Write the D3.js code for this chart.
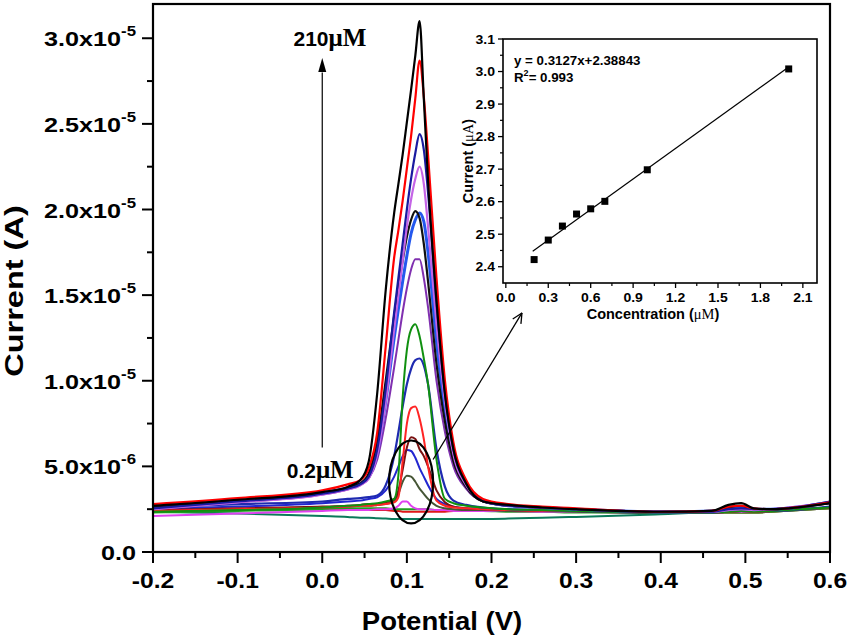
<!DOCTYPE html>
<html>
<head>
<meta charset="utf-8">
<script src="https://cdn.jsdelivr.net/npm/d3@7"></script>
<style>
  body { margin: 0; background: #fff; }
  text { font-family: "Liberation Sans", Arial, sans-serif; font-weight: bold; fill: #000; }
</style>
</head>
<body>
<script>
// ---------------- DATA ----------------
// Potential (V) sample grid shared by all DPV curves
const potential = [-0.2, -0.1, 0.0, 0.03, 0.045, 0.055, 0.065, 0.075, 0.085, 0.09, 0.095, 0.1, 0.105, 0.11, 0.115, 0.12, 0.125, 0.135, 0.145, 0.155, 0.17, 0.19, 0.22, 0.26, 0.3, 0.4, 0.46, 0.48, 0.495, 0.51, 0.53, 0.6];

// Currents in µA (x1e-6 A), one array per concentration
const curBlack1  = [2.7, 3.05, 3.5, 3.8, 4.2, 5.3, 9.3, 15.3, 19.8, 21.5, 23.2, 25.1, 27.0, 29.0, 31.0, 26.5, 21.7, 14.7, 9.2, 6.0, 4.0, 2.95, 2.75, 2.6, 2.5, 2.35, 2.4, 2.75, 2.85, 2.55, 2.5, 2.85];
const curRed1    = [2.8, 3.15, 3.6, 3.95, 4.2, 4.9, 7.0, 12.0, 17.2, 18.8, 20.5, 22.4, 24.3, 26.5, 28.7, 26.6, 23.2, 16.0, 10.0, 6.4, 4.2, 3.1, 2.8, 2.65, 2.55, 2.35, 2.4, 2.65, 2.7, 2.55, 2.5, 2.9];
const curNavy1   = [2.55, 2.95, 3.4, 3.7, 3.95, 4.4, 6.0, 9.5, 14.0, 16.0, 18.0, 20.0, 21.8, 23.3, 24.4, 23.5, 21.0, 14.5, 9.3, 6.0, 4.0, 3.0, 2.7, 2.6, 2.5, 2.35, 2.35, 2.5, 2.55, 2.5, 2.5, 2.95];
const curViolet  = [2.5, 2.9, 3.35, 3.65, 3.9, 4.3, 5.7, 8.8, 13.0, 15.0, 17.0, 19.0, 20.6, 21.8, 22.5, 21.5, 19.0, 13.3, 8.8, 5.7, 3.9, 3.0, 2.7, 2.6, 2.5, 2.35, 2.35, 2.45, 2.5, 2.45, 2.5, 2.9];
const curBlack2  = [2.6, 3.0, 3.45, 3.75, 4.0, 4.6, 6.5, 10.0, 13.8, 15.5, 17.0, 18.4, 19.4, 19.9, 19.5, 18.0, 15.8, 11.0, 7.6, 5.3, 3.8, 2.95, 2.7, 2.6, 2.5, 2.35, 2.4, 2.6, 2.7, 2.5, 2.5, 2.85];
const curBlue1   = [2.6, 3.0, 3.45, 3.75, 4.0, 4.4, 5.8, 8.8, 12.5, 14.2, 15.8, 17.3, 18.6, 19.4, 19.8, 19.3, 17.5, 12.3, 8.2, 5.5, 3.9, 3.0, 2.7, 2.6, 2.5, 2.35, 2.4, 2.5, 2.55, 2.5, 2.5, 2.9];
const curPurple  = [2.5, 2.9, 3.35, 3.65, 3.9, 4.3, 5.4, 7.8, 10.8, 12.4, 14.0, 15.4, 16.5, 17.1, 17.1, 16.0, 14.3, 10.0, 7.0, 5.0, 3.7, 2.95, 2.7, 2.6, 2.5, 2.35, 2.35, 2.45, 2.5, 2.45, 2.5, 2.85];
const curGreen1  = [2.35, 2.45, 2.6, 2.7, 2.75, 2.8, 2.85, 2.95, 3.1, 4.5, 9.0, 11.8, 13.0, 13.3, 12.6, 11.3, 9.8, 5.4, 3.1, 2.85, 2.7, 2.6, 2.5, 2.45, 2.4, 2.3, 2.3, 2.35, 2.4, 2.35, 2.4, 2.6];
const curNavy2   = [2.6, 2.8, 2.95, 3.1, 3.15, 3.2, 3.3, 3.9, 5.6, 7.0, 8.5, 9.8, 10.7, 11.2, 11.3, 10.9, 9.8, 6.0, 3.8, 3.0, 2.75, 2.6, 2.5, 2.45, 2.4, 2.3, 2.3, 2.4, 2.45, 2.4, 2.4, 2.65];
const curRed2    = [2.4, 2.5, 2.6, 2.65, 2.7, 2.7, 2.75, 2.8, 2.9, 3.2, 5.3, 7.5, 8.4, 8.5, 7.8, 6.6, 5.0, 3.0, 2.7, 2.6, 2.55, 2.5, 2.45, 2.4, 2.4, 2.3, 2.3, 2.35, 2.4, 2.35, 2.4, 2.6];
const curBrown   = [2.45, 2.55, 2.65, 2.7, 2.75, 2.8, 2.8, 2.9, 3.1, 3.6, 4.8, 6.1, 6.7, 6.6, 6.0, 5.6, 5.0, 3.6, 2.9, 2.65, 2.55, 2.5, 2.45, 2.4, 2.4, 2.3, 2.3, 2.35, 2.4, 2.35, 2.4, 2.6];
const curBlue2   = [2.5, 2.65, 2.85, 2.95, 3.0, 3.1, 3.2, 3.6, 4.4, 5.0, 5.6, 5.95, 5.9, 5.5, 4.9, 4.4, 3.9, 3.1, 2.8, 2.65, 2.55, 2.5, 2.45, 2.4, 2.4, 2.3, 2.3, 2.35, 2.4, 2.35, 2.4, 2.6];
const curOlive   = [2.4, 2.5, 2.6, 2.65, 2.7, 2.7, 2.75, 2.8, 3.0, 3.4, 4.1, 4.45, 4.4, 4.1, 3.7, 3.4, 3.1, 2.7, 2.55, 2.5, 2.45, 2.45, 2.4, 2.4, 2.35, 2.3, 2.3, 2.35, 2.4, 2.35, 2.4, 2.6];
const curMagenta = [2.1, 2.25, 2.4, 2.45, 2.45, 2.45, 2.5, 2.5, 2.55, 2.7, 2.95, 2.95, 2.7, 2.55, 2.5, 2.5, 2.5, 2.45, 2.45, 2.4, 2.4, 2.4, 2.4, 2.35, 2.35, 2.3, 2.3, 2.35, 2.35, 2.35, 2.4, 2.6];
const curGreen2  = [2.3, 2.4, 2.5, 2.55, 2.55, 2.55, 2.55, 2.55, 2.5, 2.5, 2.5, 2.5, 2.5, 2.5, 2.5, 2.5, 2.5, 2.45, 2.45, 2.45, 2.4, 2.4, 2.35, 2.35, 2.3, 2.3, 2.3, 2.3, 2.3, 2.3, 2.35, 2.55];
const curRed3    = [2.4, 2.45, 2.5, 2.5, 2.5, 2.45, 2.45, 2.45, 2.4, 2.4, 2.35, 2.35, 2.35, 2.35, 2.35, 2.35, 2.35, 2.35, 2.35, 2.4, 2.4, 2.4, 2.4, 2.35, 2.35, 2.3, 2.3, 2.3, 2.3, 2.3, 2.35, 2.55];
const curTeal    = [2.35, 2.25, 2.1, 2.05, 2.0, 2.0, 1.97, 1.95, 1.93, 1.93, 1.93, 1.93, 1.93, 1.93, 1.93, 1.93, 1.93, 1.93, 1.93, 1.93, 1.93, 1.93, 1.95, 2.0, 2.05, 2.2, 2.3, 2.3, 2.3, 2.3, 2.35, 2.55];

// Axis ticks
const xTicks = [-0.2, -0.1, 0.0, 0.1, 0.2, 0.3, 0.4, 0.5, 0.6];
const yTicks = [0, 5e-6, 1e-5, 1.5e-5, 2e-5, 2.5e-5, 3e-5];

// Inset calibration data
const conc = [0.2, 0.3, 0.4, 0.5, 0.6, 0.7, 1.0, 2.0];
const peakCurrent = [2.422, 2.482, 2.525, 2.562, 2.578, 2.601, 2.698, 3.008];
const fitSlope = 0.3127, fitIntercept = 2.38843, fitRange = [0.19, 2.0];
const insetXTicks = [0.0, 0.3, 0.6, 0.9, 1.2, 1.5, 1.8, 2.1];
const insetYTicks = [2.4, 2.5, 2.6, 2.7, 2.8, 2.9, 3.0, 3.1];

// ---------------- STYLES ----------------
const series = [
  { v: curTeal,    color: "#0a7a5a", w: 2 },
  { v: curRed3,    color: "#e01818", w: 2 },
  { v: curGreen2,  color: "#20a020", w: 2 },
  { v: curMagenta, color: "#e040f0", w: 2 },
  { v: curOlive,   color: "#465636", w: 2 },
  { v: curBlue2,   color: "#2226d0", w: 2 },
  { v: curBrown,   color: "#7a1010", w: 2 },
  { v: curRed2,    color: "#ff2424", w: 2 },
  { v: curNavy2,   color: "#1e2ab0", w: 2.2 },
  { v: curGreen1,  color: "#109010", w: 2 },
  { v: curPurple,  color: "#8030b0", w: 2 },
  { v: curBlue1,   color: "#2458ee", w: 3 },
  { v: curBlack2,  color: "#101010", w: 2.2 },
  { v: curViolet,  color: "#c464e6", w: 2.2 },
  { v: curNavy1,   color: "#1a1aa0", w: 2.2 },
  { v: curRed1,    color: "#ff0000", w: 2.2 },
  { v: curBlack1,  color: "#000000", w: 2.2 }
];

// ---------------- CHART ----------------
const W = 851, H = 643;
const svg = d3.select("body").append("svg").attr("width", W).attr("height", H);

const x = d3.scaleLinear().domain([-0.2, 0.6]).range([153, 830]);
const y = d3.scaleLinear().domain([0, 3.2e-5]).range([552, 4]);

svg.append("clipPath").attr("id", "clip").append("rect")
  .attr("x", x(-0.2)).attr("y", y(3.2e-5)).attr("width", x(0.6) - x(-0.2)).attr("height", y(0) - y(3.2e-5));

const line = d3.line()
  .x((d, i) => x(potential[i]))
  .y(d => y(d * 1e-6))
  .curve(d3.curveMonotoneX);

const gLines = svg.append("g").attr("clip-path", "url(#clip)");
series.forEach(s => {
  gLines.append("path").attr("d", line(s.v))
    .attr("fill", "none").attr("stroke", s.color).attr("stroke-width", s.w)
    .attr("stroke-linejoin", "round");
});

// frame
svg.append("rect").attr("x", x(-0.2)).attr("y", y(3.2e-5))
  .attr("width", x(0.6) - x(-0.2)).attr("height", y(0) - y(3.2e-5))
  .attr("fill", "none").attr("stroke", "#000").attr("stroke-width", 2.2);

// x ticks
const xMinor = d3.range(-0.15, 0.6, 0.1);
xTicks.forEach(t => svg.append("line").attr("x1", x(t)).attr("x2", x(t)).attr("y1", y(0)).attr("y2", y(0) + 11).attr("stroke", "#000").attr("stroke-width", 2));
xMinor.forEach(t => svg.append("line").attr("x1", x(t)).attr("x2", x(t)).attr("y1", y(0)).attr("y2", y(0) + 6).attr("stroke", "#000").attr("stroke-width", 2));
xTicks.forEach(t => {
  svg.append("text").attr("transform", `translate(${x(t)},588) scale(1.12,1)`)
    .attr("text-anchor", "middle").attr("font-size", 22)
    .text(d3.format(".1f")(t).replace("−", "-"));
});

// y ticks
const yMinor = d3.range(2.5e-6, 3.2e-5, 5e-6);
yTicks.forEach(t => svg.append("line").attr("x1", x(-0.2) - 11).attr("x2", x(-0.2)).attr("y1", y(t)).attr("y2", y(t)).attr("stroke", "#000").attr("stroke-width", 2));
yMinor.forEach(t => svg.append("line").attr("x1", x(-0.2) - 6).attr("x2", x(-0.2)).attr("y1", y(t)).attr("y2", y(t)).attr("stroke", "#000").attr("stroke-width", 2));
yTicks.forEach(t => {
  const txt = svg.append("text").attr("transform", `translate(136,${y(t) + 8}) scale(1.2,1)`)
    .attr("text-anchor", "end").attr("font-size", 21);
  if (t === 0) { txt.text("0.0"); return; }
  const e = Math.floor(Math.log10(t) + 1e-9);
  const m = t / Math.pow(10, e);
  txt.append("tspan").text(m.toFixed(1) + "x10");
  txt.append("tspan").attr("font-size", 14).attr("dy", -10).text(String(e));
});

// axis titles
svg.append("text").attr("transform", "translate(442,630) scale(1.1,1)")
  .attr("text-anchor", "middle").attr("font-size", 25).text("Potential (V)");
svg.append("text").attr("transform", "translate(23,291) rotate(-90) scale(1.25,1)")
  .attr("text-anchor", "middle").attr("font-size", 26).text("Current (A)");

// ---------------- ANNOTATIONS ----------------
// vertical concentration arrow
svg.append("line").attr("x1", x(0)).attr("x2", x(0)).attr("y1", y(6.1e-6)).attr("y2", y(2.8e-5))
  .attr("stroke", "#000").attr("stroke-width", 1.2);
svg.append("path")
  .attr("d", `M${x(0)},${y(2.885e-5)} L${x(0) - 4},${y(2.885e-5) + 14} L${x(0) + 4},${y(2.885e-5) + 14} Z`)
  .attr("fill", "#000");

const labHigh = svg.append("text").attr("x", x(-0.034)).attr("y", 46).attr("font-size", 21);
labHigh.append("tspan").text("210");
labHigh.append("tspan").attr("font-family", "'Liberation Serif', 'Times New Roman', serif").attr("font-size", 25).attr("font-weight", "bold").text("μM");
const labLow = svg.append("text").attr("x", x(-0.042)).attr("y", 478).attr("font-size", 21);
labLow.append("tspan").text("0.2");
labLow.append("tspan").attr("font-family", "'Liberation Serif', 'Times New Roman', serif").attr("font-size", 25).attr("font-weight", "bold").text("μM");

// ellipse around low-concentration peaks
svg.append("ellipse").attr("cx", x(0.105)).attr("cy", y(4.09e-6))
  .attr("rx", x(0.131) - x(0.105)).attr("ry", y(0) - y(2.42e-6))
  .attr("fill", "none").attr("stroke", "#000").attr("stroke-width", 2.2);

// arrow to inset
const ax1 = x(0.131), ay1 = y(5.4e-6), ax2 = x(0.236), ay2 = y(1.396e-5);
svg.append("line").attr("x1", ax1).attr("y1", ay1).attr("x2", ax2).attr("y2", ay2)
  .attr("stroke", "#000").attr("stroke-width", 1.3);
const ang = Math.atan2(ay2 - ay1, ax2 - ax1);
[0.45, -0.45].forEach(a => {
  svg.append("line").attr("x1", ax2).attr("y1", ay2)
    .attr("x2", ax2 - 11 * Math.cos(ang + a)).attr("y2", ay2 - 11 * Math.sin(ang + a))
    .attr("stroke", "#000").attr("stroke-width", 1.3);
});

// ---------------- INSET ----------------
const ix = d3.scaleLinear().domain([-0.02, 2.2]).range([503, 817]);
const iy = d3.scaleLinear().domain([2.35, 3.1]).range([283, 39]);
const gi = svg.append("g");
gi.append("rect").attr("x", ix(-0.02)).attr("y", iy(3.1)).attr("width", ix(2.2) - ix(-0.02)).attr("height", iy(2.35) - iy(3.1))
  .attr("fill", "#fff").attr("stroke", "#000").attr("stroke-width", 1.6);

insetXTicks.forEach(t => {
  gi.append("line").attr("x1", ix(t)).attr("x2", ix(t)).attr("y1", iy(2.35)).attr("y2", iy(2.35) + 5).attr("stroke", "#000").attr("stroke-width", 1.3);
  gi.append("text").attr("transform", `translate(${ix(t)},302) scale(1.12,1)`).attr("text-anchor", "middle").attr("font-size", 12.5).text(t.toFixed(1));
});
d3.range(0.15, 2.2, 0.3).forEach(t => {
  gi.append("line").attr("x1", ix(t)).attr("x2", ix(t)).attr("y1", iy(2.35)).attr("y2", iy(2.35) + 3).attr("stroke", "#000").attr("stroke-width", 1.2);
});
insetYTicks.forEach(t => {
  gi.append("line").attr("x1", ix(-0.02) - 5).attr("x2", ix(-0.02)).attr("y1", iy(t)).attr("y2", iy(t)).attr("stroke", "#000").attr("stroke-width", 1.3);
  gi.append("text").attr("transform", `translate(495,${iy(t) + 4.5}) scale(1.12,1)`).attr("text-anchor", "end").attr("font-size", 12.5).text(t.toFixed(1));
});
d3.range(2.45, 3.1, 0.1).forEach(t => {
  gi.append("line").attr("x1", ix(-0.02) - 3).attr("x2", ix(-0.02)).attr("y1", iy(t)).attr("y2", iy(t)).attr("stroke", "#000").attr("stroke-width", 1.2);
});

// fit line
gi.append("line")
  .attr("x1", ix(fitRange[0])).attr("y1", iy(fitSlope * fitRange[0] + fitIntercept))
  .attr("x2", ix(fitRange[1])).attr("y2", iy(fitSlope * fitRange[1] + fitIntercept))
  .attr("stroke", "#000").attr("stroke-width", 1.2);
// points
conc.forEach((c, i) => {
  gi.append("rect").attr("x", ix(c) - 3.5).attr("y", iy(peakCurrent[i]) - 3.5).attr("width", 7).attr("height", 7).attr("fill", "#000");
});

// inset texts
gi.append("text").attr("x", 514).attr("y", 65).attr("font-size", 13.3).text("y = 0.3127x+2.38843");
const r2 = gi.append("text").attr("x", 514).attr("y", 82).attr("font-size", 13.3);
r2.append("tspan").text("R");
r2.append("tspan").attr("font-size", 9).attr("dy", -6).text("2");
r2.append("tspan").attr("dy", 6).text("= 0.993");

const ixt = gi.append("text").attr("x", 653).attr("y", 319).attr("text-anchor", "middle").attr("font-size", 14.5);
ixt.append("tspan").text("Concentration (");
ixt.append("tspan").attr("font-family", "'Liberation Serif', serif").attr("font-weight", "normal").text("μM");
ixt.append("tspan").text(")");
const iyt = gi.append("text").attr("transform", "translate(473,161) rotate(-90)").attr("text-anchor", "middle").attr("font-size", 14.5);
iyt.append("tspan").text("Current (");
iyt.append("tspan").attr("font-family", "'Liberation Serif', serif").attr("font-weight", "normal").text("μA");
iyt.append("tspan").text(")");
</script>
</body>
</html>
